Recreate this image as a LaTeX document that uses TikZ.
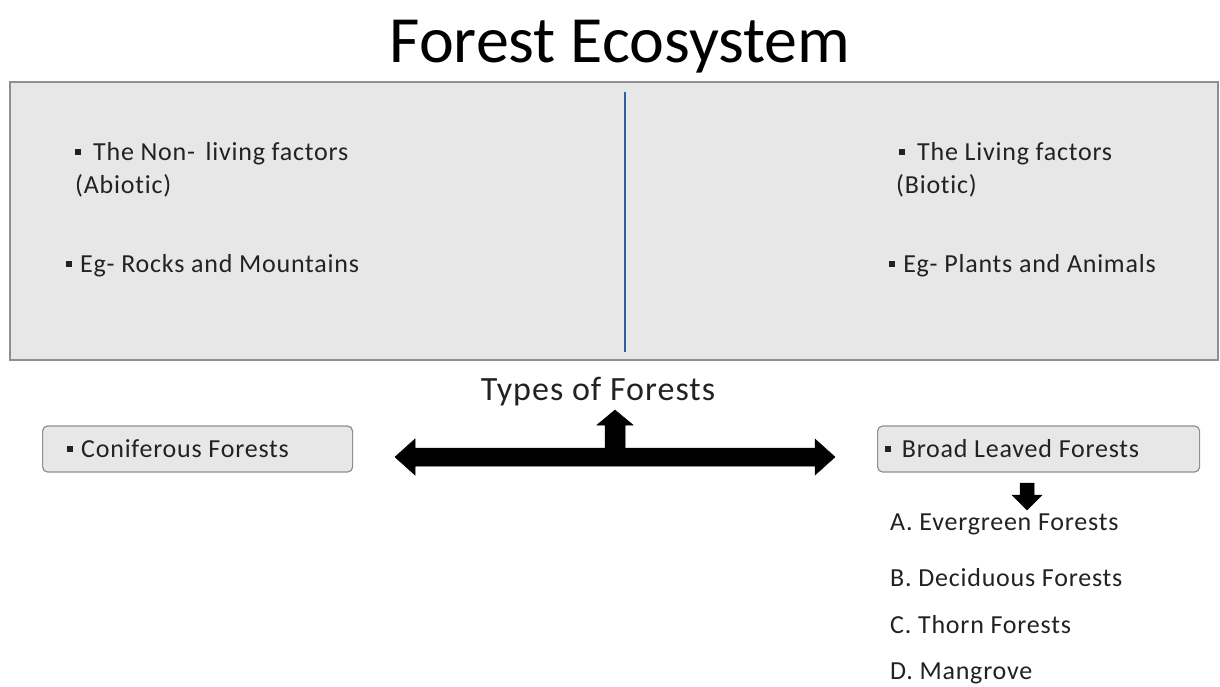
\documentclass[tikz,border=0pt]{standalone}
\usepackage{fontspec}
\setmainfont{Carlito}[RawFeature=-liga]
\newfontfamily\spaced[LetterSpace=3,RawFeature=-liga]{Carlito}
\usetikzlibrary{calc}
\definecolor{boxfill}{HTML}{E7E7E7}
\definecolor{boxline}{HTML}{8F8F8F}
\definecolor{txt}{HTML}{222222}
\definecolor{divider}{HTML}{2F5F9E}
\newcommand{\bul}{\raisebox{0.18em}{\rule{0.24em}{0.24em}}\hspace{0.3em}}
\tikzset{
  bigbox/.style={fill=boxfill, draw=boxline, line width=1.6pt},
  smallbox/.style={fill=boxfill, draw=boxline, line width=1.2pt, rounded corners=5pt},
  txtnode/.style={anchor=base west, inner sep=0pt, text=txt, font=\spaced\fontsize{26}{30}\selectfont},
  arrowfill/.style={fill=black, draw=black, line width=0.5pt, line join=miter}
}
\begin{document}
\begin{tikzpicture}[x=1pt,y=-1pt]
\useasboundingbox (0,0) rectangle (1220,686);
% title
\node[anchor=base, inner sep=0pt, text=black, font=\fontsize{66}{72}\selectfont] (title) at (620,62) {Forest Ecosystem};
% big box
\draw[bigbox] (10,82) rectangle (1218,360);
\coordinate (dtop) at (625,92);
\coordinate (dbot) at (625,352);
\draw[divider, line width=1.2pt] (dtop) -- (dbot);
% left texts
\node[txtnode] (nl1) at (75,160) {\bul\hspace{0.15em}The Non-\hspace{0.15em} living factors};
\node[txtnode] (nl2) at (75,193) {(Abiotic)};
\node[txtnode] (nl3) at (66,272) {\bul Eg- Rocks and Mountains};
% right texts
\node[txtnode] (l1) at (899,160) {\bul\hspace{0.15em}The Living factors};
\node[txtnode] (l2) at (896,193) {(Biotic)};
\node[txtnode] (l3) at (889,272) {\bul Eg- Plants and Animals};
% types of forests
\node[anchor=base, inner sep=0pt, text=txt, font=\spaced\fontsize{34}{38}\selectfont] (types) at (598,400) {Types of Forests};
% boxes
\node[smallbox, minimum width=310pt, minimum height=46pt, anchor=west] (conif) at (42,449) {};
\node[txtnode] at (67,457) {\bul Coniferous Forests};
\node[smallbox, minimum width=322pt, minimum height=46pt, anchor=west] (broad) at (877,449) {};
\node[txtnode] at (885,457) {\bul\hspace{0.1em}Broad Leaved Forests};
% double arrow
\coordinate (la) at (395,457);
\coordinate (ra) at (835,457);
\coordinate (up) at (615,410);
\fill[arrowfill] (la) -- ($(la)+(20,-18)$) -- ($(la)+(20,-9)$) -- (605,448) -- (605,425) -- (597,425) -- (up) -- (633,425) -- (625,425) -- (625,448)
  -- ($(ra)+(-20,-9)$) -- ($(ra)+(-20,-18)$) -- (ra) -- ($(ra)+(-20,18)$) -- ($(ra)+(-20,9)$) -- ($(la)+(20,9)$) -- ($(la)+(20,18)$) -- cycle;
% down arrow
\coordinate (dn) at (1027,510);
\fill[arrowfill] (1020,483) -- (1034,483) -- (1034,495) -- (1042,495) -- (dn) -- (1012,495) -- (1020,495) -- cycle;
% list
\node[txtnode] (a) at (890,530) {A. Evergreen Forests};
\node[txtnode] (b) at (890,586) {B. Deciduous Forests};
\node[txtnode] (c) at (890,633) {C. Thorn Forests};
\node[txtnode] (d) at (890,679) {D. Mangrove};
\end{tikzpicture}
\end{document}
